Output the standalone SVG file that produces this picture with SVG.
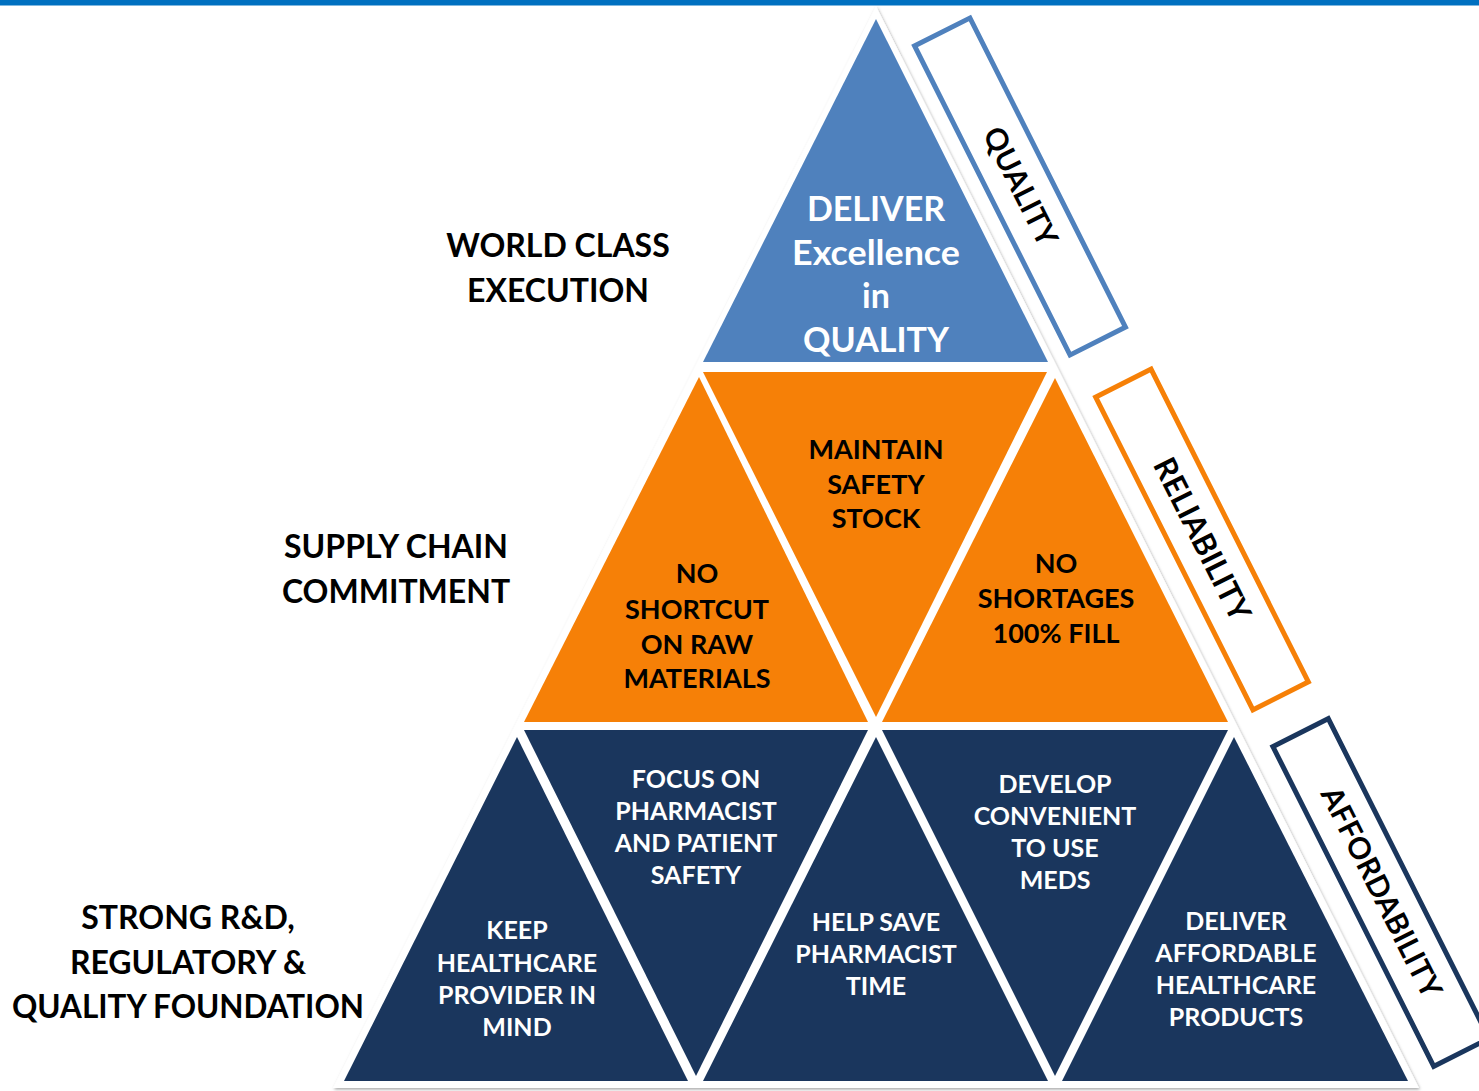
<svg xmlns="http://www.w3.org/2000/svg" width="1479" height="1091" viewBox="0 0 1479 1091">
<defs>
<filter id="sh" x="-5%" y="-5%" width="110%" height="110%">
<feDropShadow dx="1" dy="1.5" stdDeviation="1.5" flood-color="#000" flood-opacity="0.35"/>
</filter>
<style>
text{font-family:Lato,"Open Sans","Liberation Sans",sans-serif;font-weight:bold;text-anchor:middle}
.top{fill:#fff;font-size:34px}
.mid{fill:#000;font-size:27px}
.bot{fill:#fff;font-size:25px}
.lab{fill:#000;font-size:32px}
.side{fill:#000;font-size:30px}
.blue{fill:#4F81BD}
.orange{fill:#F68007}
.navy{fill:#1A365D}
.box{fill:#fff;stroke-width:5}
</style>
</defs>
<rect x="0" y="0" width="1479" height="1091" fill="#fff"/>
<rect x="0" y="0" width="1479" height="5.5" fill="#0070C0"/>

<g id="pyramid-base">
<polygon points="876,6 333,1088 1419,1088" fill="#fff" filter="url(#sh)"/>
</g>

<g id="top-quality">
<polygon class="blue" points="876,19 703,362 1048,362"/>
<text class="top" x="876" y="221">DELIVER</text>
<text class="top" x="876" y="265" textLength="168" lengthAdjust="spacingAndGlyphs">Excellence</text>
<text class="top" x="876" y="308">in</text>
<text class="top" x="876" y="352">QUALITY</text>
</g>

<g id="mid-left">
<polygon class="orange" points="699,377 524,722 868,722"/>
<text class="mid" x="697" y="583">NO</text>
<text class="mid" x="697" y="619">SHORTCUT</text>
<text class="mid" x="697" y="654">ON RAW</text>
<text class="mid" x="697" y="688">MATERIALS</text>
</g>
<g id="mid-center">
<polygon class="orange" points="703,372 1047,372 876,717"/>
<text class="mid" x="876" y="459">MAINTAIN</text>
<text class="mid" x="876" y="494">SAFETY</text>
<text class="mid" x="876" y="528">STOCK</text>
</g>
<g id="mid-right">
<polygon class="orange" points="1055,378 882,722 1228,722"/>
<text class="mid" x="1056" y="573">NO</text>
<text class="mid" x="1056" y="608">SHORTAGES</text>
<text class="mid" x="1056" y="643">100% FILL</text>
</g>

<g id="bot-1">
<polygon class="navy" points="517,737 344,1081 688,1081"/>
<text class="bot" x="517" y="939">KEEP</text>
<text class="bot" x="517" y="972">HEALTHCARE</text>
<text class="bot" x="517" y="1004">PROVIDER IN</text>
<text class="bot" x="517" y="1036">MIND</text>
</g>
<g id="bot-2">
<polygon class="navy" points="524,730 868,730 696,1076"/>
<text class="bot" x="696" y="788">FOCUS ON</text>
<text class="bot" x="696" y="820">PHARMACIST</text>
<text class="bot" x="696" y="852">AND PATIENT</text>
<text class="bot" x="696" y="884">SAFETY</text>
</g>
<g id="bot-3">
<polygon class="navy" points="876,737 703,1081 1048,1081"/>
<text class="bot" x="876" y="931">HELP SAVE</text>
<text class="bot" x="876" y="963">PHARMACIST</text>
<text class="bot" x="876" y="995">TIME</text>
</g>
<g id="bot-4">
<polygon class="navy" points="882,730 1228,730 1055,1076"/>
<text class="bot" x="1055" y="793">DEVELOP</text>
<text class="bot" x="1055" y="825">CONVENIENT</text>
<text class="bot" x="1055" y="857">TO USE</text>
<text class="bot" x="1055" y="889">MEDS</text>
</g>
<g id="bot-5">
<polygon class="navy" points="1234,737 1062,1081 1408,1081"/>
<text class="bot" x="1236" y="930">DELIVER</text>
<text class="bot" x="1236" y="962">AFFORDABLE</text>
<text class="bot" x="1236" y="994">HEALTHCARE</text>
<text class="bot" x="1236" y="1026">PRODUCTS</text>
</g>

<g id="label-world-class">
<text class="lab" x="558" y="257">WORLD CLASS</text>
<text class="lab" x="558" y="302">EXECUTION</text>
</g>
<g id="label-supply-chain">
<text class="lab" x="396" y="558">SUPPLY CHAIN</text>
<text class="lab" x="396" y="603">COMMITMENT</text>
</g>
<g id="label-foundation">
<text class="lab" x="188" y="929">STRONG R&amp;D,</text>
<text class="lab" x="188" y="974">REGULATORY &amp;</text>
<text class="lab" x="188" y="1018" textLength="352" lengthAdjust="spacingAndGlyphs">QUALITY FOUNDATION</text>
</g>

<g id="side-quality" transform="translate(1020,186.5)">
<rect class="box" x="-31" y="-173" width="62" height="346" stroke="#4F81BD" transform="rotate(-26.7)"/>
<text class="side" x="0" y="10" transform="rotate(63.3)">QUALITY</text>
</g>
<g id="side-reliability" transform="translate(1202,539.5)">
<rect class="box" x="-31" y="-175" width="62" height="350" stroke="#F68007" transform="rotate(-26.7)"/>
<text class="side" x="0" y="10.5" transform="rotate(63.3)" style="font-size:31px">RELIABILITY</text>
</g>
<g id="side-affordability" transform="translate(1381,892.5)">
<rect class="box" x="-31" y="-179" width="62" height="358" stroke="#1A365D" transform="rotate(-26.7)"/>
<text class="side" x="0" y="10" transform="rotate(63.3)">AFFORDABILITY</text>
</g>

<g id="connectors"></g>
</svg>
